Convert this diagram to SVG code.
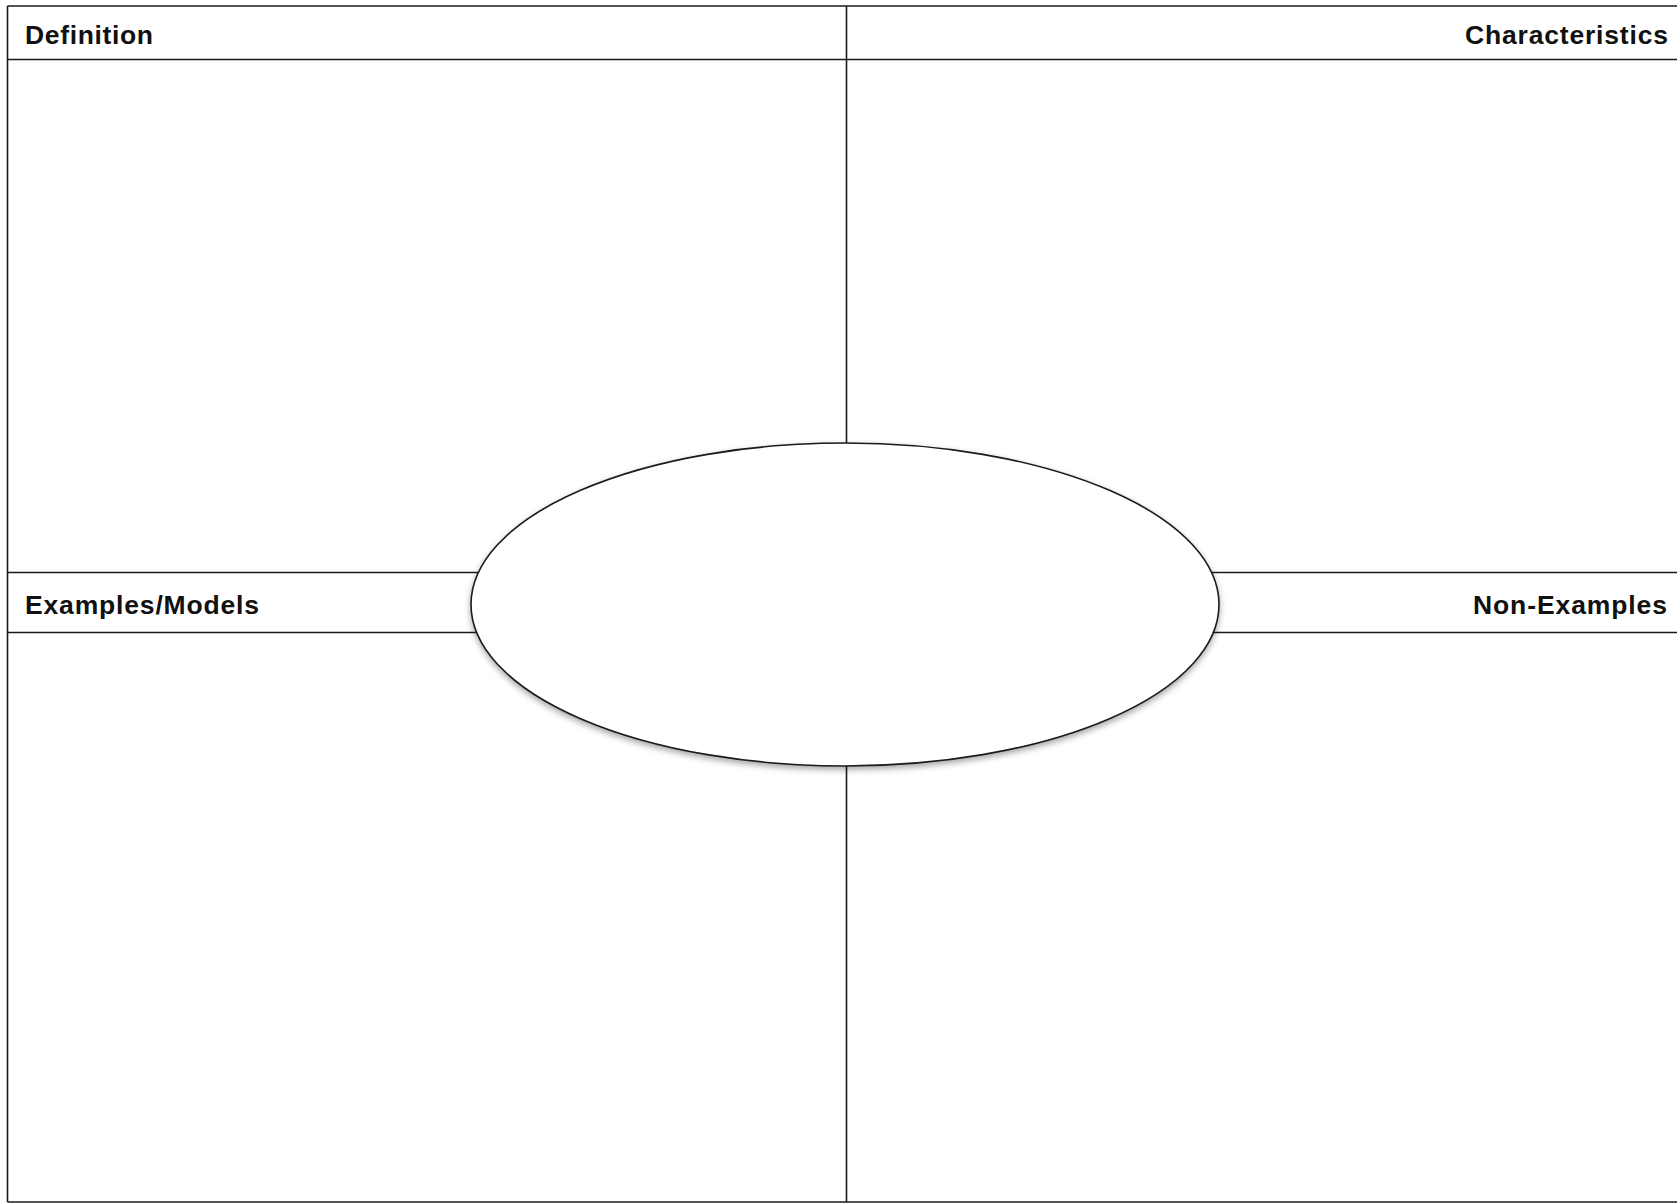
<svg xmlns="http://www.w3.org/2000/svg" width="1677" height="1203" viewBox="0 0 1677 1203">
<style>
.ln{stroke:#1a1a1a;stroke-width:1.6;fill:none}
.lbl{font-family:"Liberation Sans",Arial,Helvetica,sans-serif;font-weight:bold;font-size:26.5px;fill:#111}
</style>
<defs>
<filter id="sh" x="-10%" y="-10%" width="120%" height="130%">
<feDropShadow dx="0" dy="3" stdDeviation="3" flood-color="#000" flood-opacity="0.35"/>
</filter>
</defs>
<rect width="1677" height="1203" fill="#fff"/>
<g id="frame">
<line class="ln" x1="7.5" y1="6" x2="1677" y2="6"/>
<line class="ln" x1="7.5" y1="6" x2="7.5" y2="1202"/>
<line class="ln" x1="7.5" y1="1202" x2="1677" y2="1202"/>
<line class="ln" x1="7.5" y1="59.5" x2="1677" y2="59.5"/>
<line class="ln" x1="846.5" y1="6" x2="846.5" y2="1202"/>
<line class="ln" x1="7.5" y1="572.5" x2="1677" y2="572.5"/>
<line class="ln" x1="7.5" y1="632.5" x2="1677" y2="632.5"/>
</g>
<g id="definition"><text class="lbl" x="25" y="43.5" textLength="128" lengthAdjust="spacing">Definition</text></g>
<g id="characteristics"><text class="lbl" x="1465" y="43.5" textLength="203" lengthAdjust="spacing">Characteristics</text></g>
<g id="examples"><text class="lbl" x="25" y="613.5" textLength="234" lengthAdjust="spacing">Examples/Models</text></g>
<g id="non-examples"><text class="lbl" x="1473" y="613.5" textLength="194" lengthAdjust="spacing">Non-Examples</text></g>
<g id="center">
<ellipse cx="845" cy="604.5" rx="374" ry="161.5" fill="#fff" stroke="#1a1a1a" stroke-width="1.6" filter="url(#sh)"/>
</g>
</svg>
